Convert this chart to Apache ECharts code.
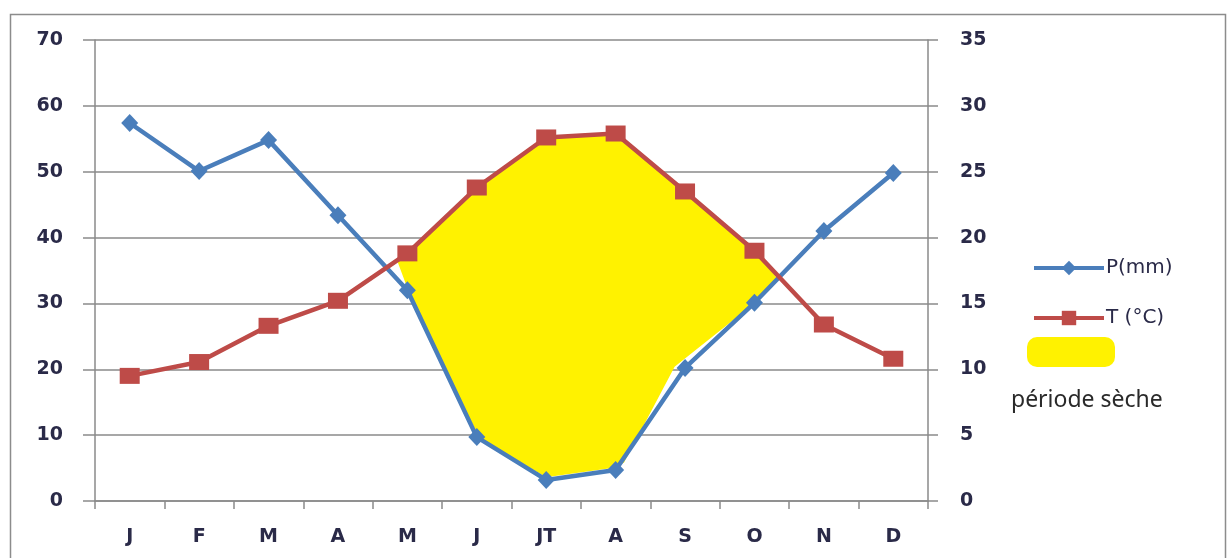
<!DOCTYPE html>
<html>
<head>
<meta charset="utf-8">
<script src="https://cdn.jsdelivr.net/npm/echarts@6/dist/echarts.min.js"></script>
<style>
  html, body { margin: 0; padding: 0; background: #fff; }
  #chart { width: 1229px; height: 558px; }
</style>
</head>
<body>
<div id="chart"></div>
<script>
// Diagramme ombrothermique : précipitations (mm) et températures (°C)
const months = ['J', 'F', 'M', 'A', 'M', 'J', 'JT', 'A', 'S', 'O', 'N', 'D'];
const precip = [57.4, 50.1, 54.8, 43.4, 32.0, 9.7, 3.2, 4.7, 20.2, 30.1, 41.0, 49.8];
const temp = [9.5, 10.55, 13.3, 15.2, 18.8, 23.8, 27.6, 27.9, 23.5, 19.0, 13.4, 10.8];

// Contour de la période sèche : [indice du mois, valeur sur l'axe des mm]
const dryOutline = [
  [3.86, 36.3], [4, 37.6], [5, 47.6], [6, 55.2], [7, 55.8], [8, 47.0], [9, 38.0],
  [9.33, 33.8], [8.95, 29.6], [7.85, 20.4], [7.12, 5.8], [6.95, 5.0], [6.0, 3.6],
  [5.04, 9.5], [4.04, 31.2], [3.86, 36.3]
];

const leftTicks = [0, 70, 10];   // min, max, pas (mm)
const rightTicks = [0, 35, 5];   // min, max, pas (°C)

const BLUE = '#4a7ebb';
const RED = '#be4b48';
const YELLOW = '#fff200';
const GRID = '#8a8a8a';
const TXT = '#2a2a48';
const FONT = 'DejaVu Sans';

const chart = echarts.init(document.getElementById('chart'), null, { renderer: 'canvas' });

const tickLabel = { fontFamily: FONT, fontSize: 19, fontWeight: 'bold', color: TXT };

chart.setOption({
  animation: false,
  backgroundColor: '#fff',
  grid: { left: 95, right: 301, top: 40, bottom: 57 },
  legend: {
    orient: 'vertical',
    left: 1027,
    top: 253,
    itemWidth: 70,
    itemHeight: 18,
    itemGap: 30,
    data: ['P(mm)', 'T (°C)'],
    lineStyle: { width: 4 },
    textStyle: { fontFamily: FONT, fontSize: 20, color: TXT, padding: [0, 0, 0, -3] }
  },
  graphic: [
    { type: 'rect', left: 8, top: 12, shape: { width: 1215, height: 600 },
      style: { fill: 'none', stroke: '#8c8c8c', lineWidth: 1.5 }, silent: true },
    { type: 'rect', left: 1027, top: 337, shape: { width: 88, height: 30, r: 10 },
      style: { fill: YELLOW }, silent: true },
    { type: 'text', left: 1011, top: 389,
      style: { text: 'période sèche', fill: '#2a2a2a', font: '23px "Noto Sans"' }, silent: true }
  ],
  xAxis: [
    {
      type: 'category',
      data: months,
      boundaryGap: true,
      axisLine: { lineStyle: { color: GRID, width: 1.5 } },
      axisTick: { show: true, length: 8, interval: 0, lineStyle: { color: GRID, width: 1.5 } },
      axisLabel: Object.assign({ margin: 27, interval: 0 }, tickLabel)
    },
    { type: 'value', min: -0.5, max: 11.5, show: false }
  ],
  yAxis: [
    {
      type: 'value',
      min: leftTicks[0], max: leftTicks[1], interval: leftTicks[2],
      axisLine: { show: true, onZero: false, lineStyle: { color: GRID, width: 1.5 } },
      axisTick: { show: true, length: 12, lineStyle: { color: GRID, width: 1.5 } },
      splitLine: { lineStyle: { color: GRID, width: 1.5 } },
      axisLabel: Object.assign({ margin: 32 }, tickLabel)
    },
    {
      type: 'value',
      min: rightTicks[0], max: rightTicks[1], interval: rightTicks[2],
      position: 'right',
      axisLine: { show: true, onZero: false, lineStyle: { color: GRID, width: 1.5 } },
      axisTick: { show: true, length: 10, lineStyle: { color: GRID, width: 1.5 } },
      splitLine: { show: false },
      axisLabel: Object.assign({ margin: 32 }, tickLabel)
    }
  ],
  series: [
    {
      name: 'période sèche',
      type: 'custom',
      xAxisIndex: 1,
      yAxisIndex: 0,
      z: 1,
      silent: true,
      data: [0],
      renderItem: function (params, api) {
        const pts = dryOutline.map(p => api.coord(p));
        return { type: 'polygon', shape: { points: pts }, style: { fill: YELLOW } };
      }
    },
    {
      name: 'P(mm)',
      type: 'line',
      data: precip,
      yAxisIndex: 0,
      z: 3,
      symbol: 'diamond',
      symbolSize: [17, 18],
      lineStyle: { color: BLUE, width: 4.5 },
      itemStyle: { color: BLUE },
      emphasis: { disabled: true }
    },
    {
      name: 'T (°C)',
      type: 'line',
      data: temp,
      yAxisIndex: 1,
      z: 4,
      symbol: 'rect',
      symbolSize: [20, 16],
      lineStyle: { color: RED, width: 4.5 },
      itemStyle: { color: RED },
      emphasis: { disabled: true }
    }
  ]
});
</script>
</body>
</html>
